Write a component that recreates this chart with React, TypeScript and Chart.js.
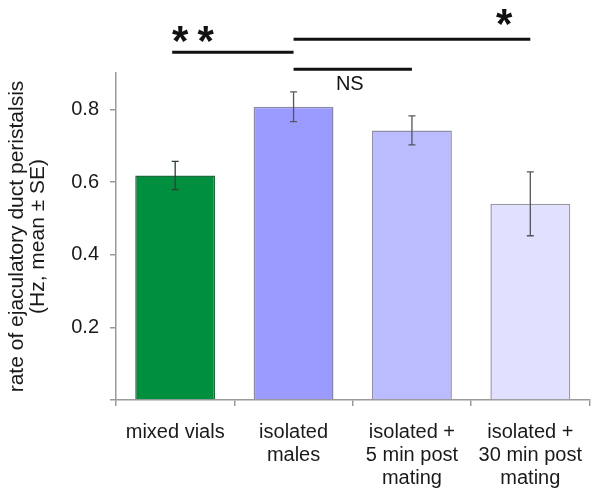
import React, { useEffect, useRef } from "react";
import { Chart, registerables } from "chart.js";

Chart.register(...registerables);

const categories: (string | string[])[] = [
  "mixed vials",
  ["isolated", "males"],
  ["isolated +", "5 min post", "mating"],
  ["isolated +", "30 min post", "mating"],
];
const means = [0.618, 0.807, 0.742, 0.54];
const errors = [0.039, 0.041, 0.04, 0.088];
const barColors = ["#008f3e", "#9b9bff", "#bbbbff", "#e1e1ff"];
const barBorders = ["#1d6a3b", "#8a8aa8", "#8f8fa8", "#9a9aa6"];
const yTickValues = [0, 0.2, 0.4, 0.6, 0.8];

// significance brackets
const bracketFrom = [0, 1, 1];
const bracketTo = [1, 3, 2];
const bracketLevel = [0.957, 0.993, 0.91];
const bracketLabel = ["**", "*", "NS"];
const bracketLabelPos = [0.17, 0.89, 0.475];

const FONT = "'Liberation Sans', Arial, sans-serif";

const errorBarPlugin = {
  id: "errorBars",
  afterDatasetsDraw(chart: any) {
    const { ctx } = chart;
    const meta = chart.getDatasetMeta(0);
    const y = chart.scales.y;
    ctx.save();
    meta.data.forEach((bar: any, i: number) => {
      const x = bar.x;
      const top = y.getPixelForValue(means[i] + errors[i]);
      const bot = y.getPixelForValue(means[i] - errors[i]);
      ctx.strokeStyle = i === 0 ? "#2f3f35" : "#55555f";
      ctx.lineWidth = 1.3;
      ctx.beginPath();
      ctx.moveTo(x, top);
      ctx.lineTo(x, bot);
      ctx.moveTo(x - 3.5, top);
      ctx.lineTo(x + 3.5, top);
      ctx.moveTo(x - 3.5, bot);
      ctx.lineTo(x + 3.5, bot);
      ctx.stroke();
    });
    ctx.restore();
  },
};

const bracketPlugin = {
  id: "brackets",
  afterDraw(chart: any) {
    const { ctx } = chart;
    const meta = chart.getDatasetMeta(0);
    const y = chart.scales.y;
    ctx.save();
    bracketFrom.forEach((from, k) => {
      const x1 = meta.data[from].x - (k === 0 ? 3 : 0);
      const x2 = meta.data[bracketTo[k]].x;
      const yy = y.getPixelForValue(bracketLevel[k]);
      ctx.strokeStyle = "#111";
      ctx.lineWidth = 3;
      ctx.beginPath();
      ctx.moveTo(x1, yy);
      ctx.lineTo(x2, yy);
      ctx.stroke();
      const lx = x1 + (x2 - x1) * bracketLabelPos[k];
      ctx.fillStyle = "#111";
      ctx.textAlign = "center";
      ctx.textBaseline = "middle";
      const label = bracketLabel[k];
      if (label === "NS") {
        ctx.font = `20px ${FONT}`;
        ctx.fillText(label, lx, yy + 15);
      } else {
        ctx.font = `bold 42px ${FONT}`;
        const n = label.length;
        const adv = 25.5;
        for (let j = 0; j < n; j++) {
          const cx = lx + (j - (n - 1) / 2) * adv;
          ctx.fillText("*", cx, yy - (k === 0 ? 9 : 13));
        }
      }
    });
    ctx.restore();
  },
};

export default function App() {
  const ref = useRef<HTMLCanvasElement>(null);
  useEffect(() => {
    if (!ref.current) return;
    const chart = new Chart(ref.current, {
      type: "bar",
      data: {
        labels: categories as any,
        datasets: [
          {
            data: means,
            backgroundColor: barColors,
            borderColor: barBorders,
            borderWidth: 1.5,
            barPercentage: 0.675,
            categoryPercentage: 1,
          },
        ],
      },
      options: {
        animation: false,
        responsive: false,
        devicePixelRatio: 1,
        layout: { padding: { top: 73, bottom: 0, left: 0, right: 0 } },
        plugins: {
          legend: { display: false },
          tooltip: { enabled: false },
        },
        scales: {
          x: {
            offset: true,
            afterFit(scale: any) {
              scale.height = 93;
            },
            grid: {
              offset: true,
              drawOnChartArea: false,
              drawTicks: true,
              tickLength: 6,
              color: "#9a9a9a",
              lineWidth: 1.5,
            },
            border: { color: "#9a9a9a", width: 1.5 },
            ticks: {
              color: "#1a1a1a",
              padding: 15,
              maxRotation: 0,
              autoSkip: false,
              font: { family: FONT, size: 20, lineHeight: 1.15 },
            },
          },
          y: {
            min: 0,
            max: 0.9,
            afterFit(scale: any) {
              scale.width = 116;
            },
            afterBuildTicks(scale: any) {
              scale.ticks = yTickValues.map((v) => ({ value: v }));
            },
            grid: {
              drawOnChartArea: false,
              drawTicks: true,
              tickLength: 6,
              color: "#9a9a9a",
              lineWidth: 1.5,
            },
            border: { color: "#9a9a9a", width: 1.5 },
            ticks: {
              color: "#1a1a1a",
              padding: 11,
              font: { family: FONT, size: 20 },
              callback: (v: any) => (Number(v) === 0 ? "" : Number(v).toFixed(1)),
            },
            title: {
              display: true,
              text: ["rate of ejaculatory duct peristalsis", "(Hz, mean ± SE)"],
              color: "#1a1a1a",
              font: { family: FONT, size: 21, lineHeight: 0.98 },
              padding: { top: 7, bottom: 0 },
            },
          },
        },
      },
      plugins: [errorBarPlugin, bracketPlugin],
    });
    return () => chart.destroy();
  }, []);
  return (
    <div style={{ position: "absolute", left: 0, top: 0, width: 597, height: 493 }}>
      <canvas ref={ref} width={597} height={493} style={{ display: "block" }} />
    </div>
  );
}
